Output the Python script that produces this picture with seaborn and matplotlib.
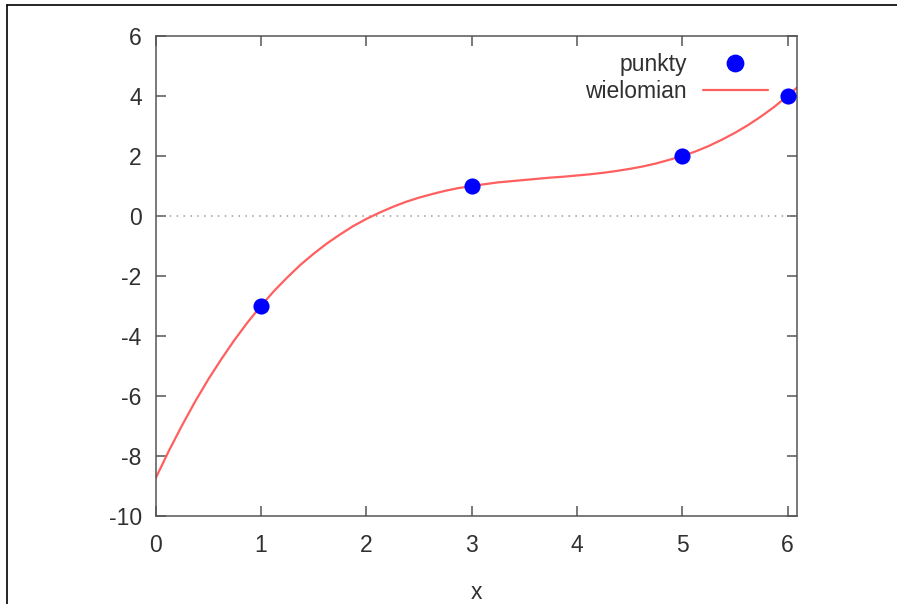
import numpy as np
import pandas as pd
import seaborn as sns
import matplotlib.pyplot as plt
from matplotlib.lines import Line2D

# data points (punkty)
pts_x = [1, 3, 5, 6]
pts_y = [-3, 1, 2, 4]

# polynomial curve (wielomian)
curve_x = [0, 0.125, 0.25, 0.375, 0.5, 0.625, 0.75, 0.875, 1, 1.125, 1.25,
           1.375, 1.5, 1.625, 1.75, 1.875, 2, 2.125, 2.25, 2.375, 2.5, 2.625,
           2.75, 2.875, 3, 3.125, 3.25, 3.375, 3.5, 3.625, 3.75, 3.875, 4,
           4.125, 4.25, 4.375, 4.5, 4.625, 4.75, 4.875, 5, 5.125, 5.25, 5.375,
           5.5, 5.625, 5.75, 5.875, 6, 6.09]
curve_y = [-8.75, -7.84, -6.99, -6.19, -5.45, -4.77, -4.13, -3.54, -3.00,
           -2.50, -2.05, -1.63, -1.26, -0.92, -0.62, -0.34, -0.10, 0.11, 0.30,
           0.47, 0.61, 0.73, 0.84, 0.93, 1.00, 1.06, 1.12, 1.16, 1.20, 1.24,
           1.28, 1.31, 1.35, 1.39, 1.44, 1.50, 1.57, 1.65, 1.75, 1.87, 2.00,
           2.15, 2.33, 2.54, 2.77, 3.03, 3.32, 3.64, 4.00, 4.28]

x_ticks = [0, 1, 2, 3, 4, 5, 6]
y_ticks = [-10, -8, -6, -4, -2, 0, 2, 4, 6]

sns.set_style("white")
plt.rcParams['font.family'] = ['Liberation Sans', 'DejaVu Sans']
plt.rcParams['axes.unicode_minus'] = False

pts = pd.DataFrame({"x": pts_x, "y": pts_y})
curve = pd.DataFrame({"x": curve_x, "y": curve_y})

fig = plt.figure(figsize=(8.97, 6.04), dpi=100)
ax = fig.add_axes([0.1734, 0.1457, 0.8885 - 0.1734, 0.9404 - 0.1457])

# zero line
ax.axhline(0, color="#9a9a9a", lw=1.1, ls=(0, (1, 3.5)), zorder=1)

sns.lineplot(data=curve, x="x", y="y", ax=ax, color="#ff5f5f", lw=1.6,
             label="wielomian", zorder=2)
sns.scatterplot(data=pts, x="x", y="y", ax=ax, color="#0000ff", s=135,
                linewidth=0, label="punkty", zorder=3)

ax.set_xlim(0, 6.09)
ax.set_ylim(-10, 6)
ax.set_xticks(x_ticks)
ax.set_yticks(y_ticks)
ax.set_xlabel("x", fontsize=16.5, color="#303030", labelpad=17)
ax.set_ylabel("")

for s in ax.spines.values():
    s.set_visible(True)
    s.set_color("#555555")
    s.set_linewidth(1.1)
ax.tick_params(axis="both", direction="in", length=7.5, width=1.1,
               color="#555555", labelsize=16.5, labelcolor="#303030",
               top=True, right=True, bottom=True, left=True)
ax.tick_params(axis="x", pad=13)
ax.tick_params(axis="y", pad=10)

handles = [
    Line2D([], [], ls="none", marker="o", color="#0000ff", markersize=11.8),
    Line2D([], [], color="#ff5f5f", lw=1.6),
]
ax.legend(handles, ["punkty", "wielomian"], loc="upper right",
          bbox_to_anchor=(0.955, 0.965), frameon=False, markerfirst=False,
          fontsize=16.5, handlelength=2.85, handletextpad=0.7,
          labelspacing=0.2, borderpad=0, borderaxespad=0,
          labelcolor="#303030")

# outer frame of the screenshot
fig.add_artist(Line2D([7 / 897, 1], [1 - 5 / 604, 1 - 5 / 604],
                      color="black", lw=1.2, transform=fig.transFigure))
fig.add_artist(Line2D([7 / 897, 7 / 897], [0, 1 - 5 / 604],
                      color="black", lw=1.2, transform=fig.transFigure))

fig.savefig("out.png", dpi=100)
